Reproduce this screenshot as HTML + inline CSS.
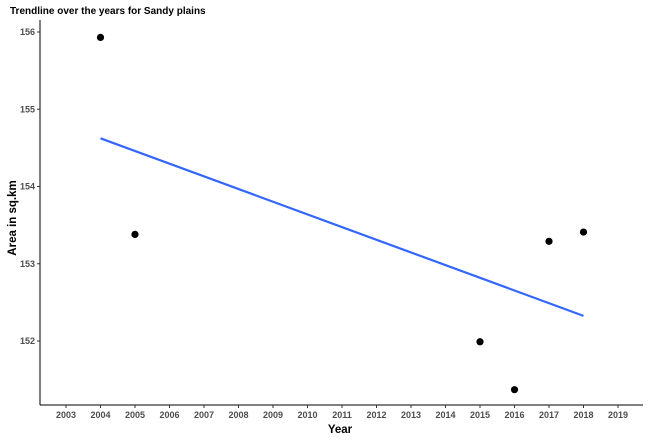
<!DOCTYPE html>
<html><head><meta charset="utf-8"><style>
body{margin:0;background:#fff;font-family:"Liberation Sans",sans-serif}
svg text{font-family:"Liberation Sans",sans-serif}
</style></head><body>
<svg id="chart" width="650" height="440">
<text x="10" y="14" font-size="10" font-weight="bold">Trendline over the years for  Sandy plains</text>
<text x="340" y="433" font-size="11.5" font-weight="bold" text-anchor="middle">Year</text>
<text transform="translate(16,218) rotate(-90)" font-size="11.5" font-weight="bold" text-anchor="middle">Area in sq.km</text>
<g id="axes"></g><g id="marks"></g>
</svg>
<script>
const years=[2004,2005,2015,2016,2017,2018];
const areas=[155.93,153.38,151.99,151.37,153.29,153.41];
const xTicks=[2003,2004,2005,2006,2007,2008,2009,2010,2011,2012,2013,2014,2015,2016,2017,2018,2019];
const yTicks=[152,153,154,155,156];
const ns="http://www.w3.org/2000/svg";
const X=v=>66+(v-2003)*(618-66)/16;
const Y=v=>341-(v-152)*(341-32)/4;
const L=40,B=405,R=643,T=20;
const axes=document.getElementById('axes'),marks=document.getElementById('marks');
function mk(tag,attrs,parent){const e=document.createElementNS(ns,tag);for(const k in attrs)e.setAttribute(k,attrs[k]);parent.appendChild(e);return e;}
let e=mk('line',{x1:L,y1:T,x2:L,y2:B,stroke:'#000','stroke-width':1},axes);


e=mk('line',{x1:L,y1:B,x2:R,y2:B,stroke:'#000','stroke-width':1},axes);


xTicks.forEach(t=>{
 const l=mk('line',{x1:X(t),x2:X(t),y1:B,y2:B+3,stroke:'#333'},axes);
 
 
 const tx=mk('text',{x:X(t),y:B+13,'font-size':9,'font-weight':'bold',fill:'#4d4d4d','text-anchor':'middle'},axes);
 tx.textContent=t;
 
 
});
yTicks.forEach(t=>{
 const l=mk('line',{x1:L-3,x2:L,y1:Y(t),y2:Y(t),stroke:'#333'},axes);
 
 
 const tx=mk('text',{x:L-5,y:Y(t)+3,'font-size':9,'font-weight':'bold',fill:'#4d4d4d','text-anchor':'end'},axes);
 tx.textContent=t;
 
 
});
const n=years.length,mx=years.reduce((a,b)=>a+b)/n,my=areas.reduce((a,b)=>a+b)/n;
let sxy=0,sxx=0;years.forEach((x,i)=>{sxy+=(x-mx)*(areas[i]-my);sxx+=(x-mx)**2;});
const slope=sxy/sxx,x0=Math.min(...years),x1=Math.max(...years);
const fit=x=>my+slope*(x-mx);
const tl=mk('line',{x1:X(x0),y1:Y(fit(x0)),x2:X(x1),y2:Y(fit(x1)),stroke:'#3366ff','stroke-width':2.2},marks);


years.forEach((x,i)=>{
 const c=mk('circle',{cx:X(x),cy:Y(areas[i]),r:3.6,fill:'#000'},marks);
 
 
});
</script>
</body></html>
